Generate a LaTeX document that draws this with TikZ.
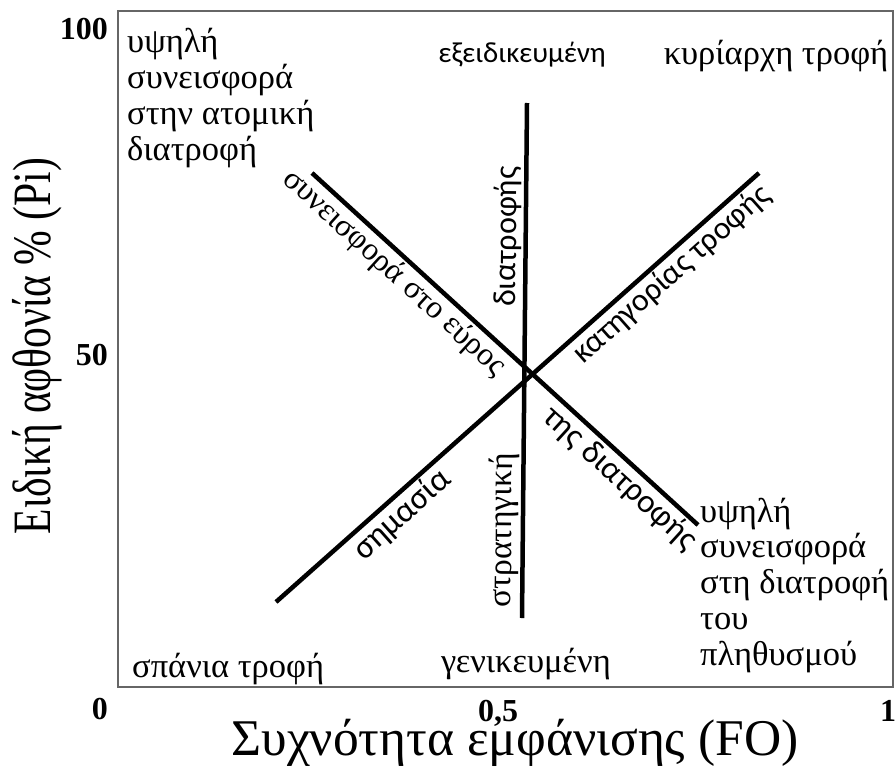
\documentclass[tikz,border=0pt]{standalone}
\usepackage{graphicx}
\usepackage{fontspec}
\setmainfont{Liberation Serif}
\newfontfamily\sansgr{Carlito}
\begin{document}
\begin{tikzpicture}[x=1pt,y=-1pt,
  lbl/.style={font=\fontsize{34.5}{35.7}\selectfont, inner sep=0pt},
  blk/.style={lbl, align=left, anchor=base west},
  slbl/.style={font=\sansgr\fontsize{32}{36}\selectfont, inner sep=2pt},
  rlbl/.style={font=\fontsize{32}{36}\selectfont, inner sep=2pt},
  tick/.style={font=\bfseries\fontsize{32}{36}\selectfont, inner sep=0pt},
  axt/.style={font=\fontsize{51.5}{56}\selectfont, inner sep=0pt},
  trend/.style={line width=4.5pt},
  frame/.style={draw=black!60, line width=2pt}]
\useasboundingbox (0,0) rectangle (896,773);
% frame
\coordinate (f1) at (118,11);
\coordinate (f2) at (893,687);
\draw[frame] (f1) rectangle (f2);
% line end points
\coordinate (v1) at (522,618);
\coordinate (v2) at (527,103);
\coordinate (a1) at (312,173);
\coordinate (a2) at (698,525);
\coordinate (b1) at (276,602);
\coordinate (b2) at (759,173);
% trend lines with labels
\draw[trend] (a1) -- node[rlbl, sloped, below, pos=0.245] (la1) {συνεισφορά στο εύρος}
                     node[slbl, font=\sansgr\fontsize{33}{36}\selectfont, sloped, below, pos=0.83] (la2) {της διατροφής} (a2);
\draw[trend] (b1) -- node[slbl, font=\sansgr\fontsize{33.5}{36}\selectfont, sloped, below, pos=0.236] (lb1) {σημασία}
                     node[slbl, sloped, below, pos=0.795] (lb2) {κατηγορίας τροφής} (b2);
\draw[trend] (v1) -- node[rlbl, font=\fontsize{33.5}{36}\selectfont, sloped, above, pos=0.17] (lv1) {στρατηγική}
                     node[slbl, sloped, above, pos=0.74] (lv2) {διατροφής} (v2);
% corner texts (base = last line)
\node[blk] (tl) at (127,160) {υψηλή\\συνεισφορά\\στην ατομική\\διατροφή};
\node[blk] (br) at (700,665) {υψηλή\\συνεισφορά\\στη διατροφή\\του\\πληθυσμού};
\node[lbl, font=\sansgr\fontsize{29}{36}\selectfont, anchor=base] (spec) at (522,63) {εξειδικευμένη};
\node[lbl, anchor=base] (dom) at (776,65) {κυρίαρχη τροφή};
\node[lbl, anchor=base] (gen) at (526,672) {γενικευμένη};
\node[lbl, anchor=base west] (rare) at (132,677) {σπάνια τροφή};
% ticks
\node[tick, anchor=base east] (t100) at (108,40) {100};
\node[tick, anchor=base east] (t50) at (108,365) {50};
\node[tick, anchor=base east] (t0) at (108,719) {0};
\node[tick, anchor=base] (t05) at (498,721) {0,5};
\node[tick, anchor=base] (t1) at (888,721) {1};
% axis titles
\node[axt, anchor=base] (xt) at (515,755) {Συχνότητα εμφάνισης (FO)};
\node[axt, font=\fontsize{54}{56}\selectfont, anchor=base, rotate=90] (yt) at (50,346) {\scalebox{0.77}[1]{Ειδική αφθονία \% (Pi)}};
\end{tikzpicture}
\end{document}
